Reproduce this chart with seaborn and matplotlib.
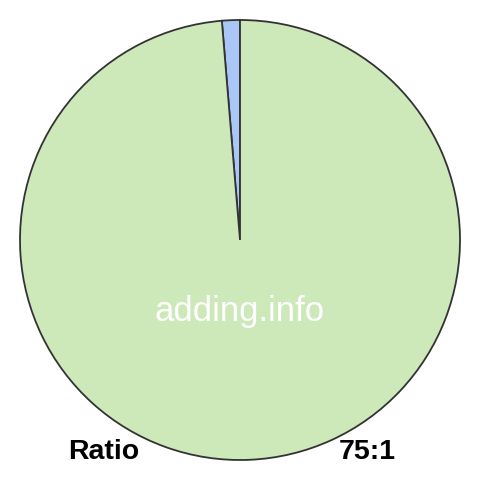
import matplotlib
matplotlib.use("Agg")
import matplotlib.pyplot as plt
import seaborn as sns

sns.set_style("white")
plt.rcParams['font.family'] = ['Liberation Sans', 'DejaVu Sans']

labels = ["1", "75"]
values = [1, 75]
colors = ["#a9c6f7", "#cde8b9"]
ratio_label = "Ratio"
ratio_value = "75:1"
watermark = "adding.info"

fig = plt.figure(figsize=(4.8, 4.8), dpi=100)
ax = fig.add_axes([0, 0, 1, 1])
ax.pie(values, colors=colors, startangle=90, counterclock=True,
       wedgeprops=dict(edgecolor="#333333", linewidth=1.3))
r = 240 / 220
ax.set_xlim(-r, r)
ax.set_ylim(-r, r)
ax.set_aspect("equal")
ax.axis("off")

ax.text(0, -0.325, watermark, color="white", fontsize=25, ha="center", va="center")
ax.text(-0.618, -0.964, ratio_label, color="black", fontsize=20.5, fontweight="bold", ha="center", va="center")
ax.text(0.577, -0.964, ratio_value, color="black", fontsize=20.5, fontweight="bold", ha="center", va="center")

fig.savefig("out.png", dpi=100, facecolor="white")
